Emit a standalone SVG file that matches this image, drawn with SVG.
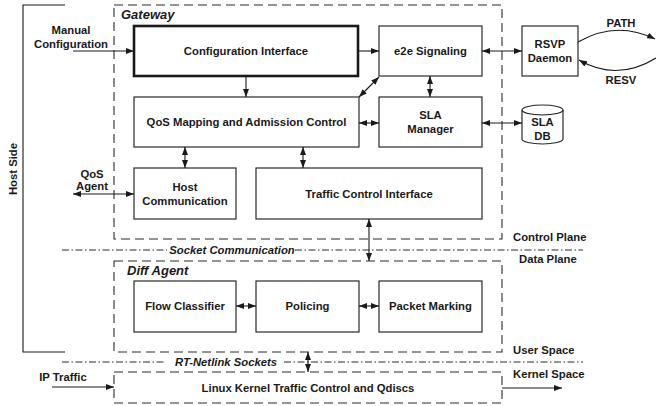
<svg xmlns="http://www.w3.org/2000/svg" width="656" height="406" viewBox="0 0 656 406">
  <defs>
    <marker id="ah" viewBox="0 0 8 6" refX="8" refY="3" markerWidth="8" markerHeight="6" markerUnits="userSpaceOnUse" orient="auto-start-reverse">
      <path d="M0,0 L8,3 L0,6 Z" fill="#1a1a1a"/>
    </marker>
    <style>
      text { font-family: "Liberation Sans", Arial, sans-serif; font-weight: bold; font-size: 11.3px; fill: #1a1a1a; }
      .c { text-anchor: middle; }
      .hdr { font-style: italic; font-size: 13px; }
      .it { font-style: italic; }
      .box { fill: #fff; stroke: #2a2a2a; stroke-width: 1.2; }
      .thick { fill: #fff; stroke: #1a1a1a; stroke-width: 2.6; }
      .dash { fill: none; stroke: #2a2a2a; stroke-width: 1.1; stroke-dasharray: 9 5; }
      .dd { fill: none; stroke: #2a2a2a; stroke-width: 1; stroke-dasharray: 7 2.5 1.5 2.5; }
      .ln { fill: none; stroke: #1a1a1a; stroke-width: 1.1; }
      .a1 { marker-end: url(#ah); }
      .a2 { marker-start: url(#ah); marker-end: url(#ah); }
    </style>
  </defs>

  <!-- host side bracket -->
  <g id="host-side">
    <path class="ln" d="M65,5 H23 V352 H65"/>
    <text class="c" transform="translate(17,169) rotate(-90)">Host Side</text>
  </g>

  <!-- plane / space separators -->
  <g id="separators">
    <path class="dd" d="M62,250 H167 M295,250 H583"/>
    <text class="c it" x="232" y="254">Socket Communication</text>
    <path class="dd" d="M62,362 H165 M284,362 H583"/>
    <text class="c it" x="226" y="366">RT-Netlink Sockets</text>
    <text x="513" y="241">Control Plane</text>
    <text x="519" y="263">Data Plane</text>
    <text x="513" y="354">User Space</text>
    <text x="513" y="378">Kernel Space</text>
  </g>

  <!-- gateway container -->
  <g id="gateway">
    <rect class="dash" x="114" y="5" width="388" height="234"/>
    <text class="hdr" x="121" y="19">Gateway</text>
  </g>

  <g id="config-interface">
    <rect class="thick" x="134" y="26" width="224" height="50"/>
    <text class="c" x="246" y="55">Configuration Interface</text>
  </g>

  <g id="e2e-signaling">
    <rect class="box" x="379" y="26" width="103" height="50"/>
    <text class="c" x="430.5" y="55">e2e Signaling</text>
  </g>

  <g id="rsvp-daemon">
    <rect class="box" x="522" y="26" width="56" height="50"/>
    <text class="c" x="550" y="48">RSVP</text>
    <text class="c" x="550" y="62">Daemon</text>
  </g>

  <g id="qos-mapping">
    <rect class="box" x="134" y="97" width="225" height="50"/>
    <text class="c" x="246.5" y="126">QoS Mapping and Admission Control</text>
  </g>

  <g id="sla-manager">
    <rect class="box" x="379" y="97" width="103" height="50"/>
    <text class="c" x="430.5" y="119">SLA</text>
    <text class="c" x="430.5" y="133">Manager</text>
  </g>

  <g id="sla-db">
    <path class="box" d="M522,110 V139 A20.5,5 0 0 0 563,139 V110 A20.5,5 0 0 0 522,110 Z"/>
    <path class="ln" d="M522,110 A20.5,5 0 0 0 563,110"/>
    <text class="c" x="542.5" y="126">SLA</text>
    <text class="c" x="542.5" y="140">DB</text>
  </g>

  <g id="host-communication">
    <rect class="box" x="134" y="168" width="102" height="51"/>
    <text class="c" x="185" y="191">Host</text>
    <text class="c" x="185" y="205">Communication</text>
  </g>

  <g id="traffic-control-interface">
    <rect class="box" x="256" y="168" width="226" height="51"/>
    <text class="c" x="369" y="198">Traffic Control Interface</text>
  </g>

  <!-- diff agent container -->
  <g id="diff-agent">
    <rect class="dash" x="114" y="261" width="388" height="91"/>
    <text class="hdr" x="127" y="275">Diff Agent</text>
  </g>

  <g id="flow-classifier">
    <rect class="box" x="134" y="281" width="102" height="51"/>
    <text class="c" x="185" y="310">Flow Classifier</text>
  </g>

  <g id="policing">
    <rect class="box" x="256" y="281" width="103" height="51"/>
    <text class="c" x="307.5" y="310">Policing</text>
  </g>

  <g id="packet-marking">
    <rect class="box" x="379" y="281" width="103" height="51"/>
    <text class="c" x="430.5" y="310">Packet Marking</text>
  </g>

  <g id="linux-kernel">
    <rect class="dash" x="114" y="372" width="388" height="31"/>
    <text class="c" x="308" y="392">Linux Kernel Traffic Control and Qdiscs</text>
  </g>

  <!-- external labels -->
  <g id="labels">
    <text class="c" x="71" y="34">Manual</text>
    <text class="c" x="71" y="48">Configuration</text>
    <text class="c" x="92" y="178">QoS</text>
    <text class="c" x="92" y="190">Agent</text>
    <text class="c" x="63" y="381">IP Traffic</text>
    <text class="c" x="621" y="27">PATH</text>
    <text class="c" x="621" y="84">RESV</text>
  </g>

  <!-- connectors -->
  <g id="connectors">
    <path class="ln a1" d="M73,51 H134"/>
    <path class="ln a1" d="M246,76 V97"/>
    <path class="ln a1" d="M358,51 H379"/>
    <path class="ln a2" d="M482,51 H522"/>
    <path class="ln a2" d="M379,77 L359,97"/>
    <path class="ln a2" d="M430,76 V97"/>
    <path class="ln a2" d="M359,123 H379"/>
    <path class="ln a2" d="M482,123 H522"/>
    <path class="ln a2" d="M185,147 V168"/>
    <path class="ln a2" d="M303,147 V168"/>
    <path class="ln a2" d="M73,194 H134"/>
    <path class="ln a2" d="M369,219 V261"/>
    <path class="ln a2" d="M236,306 H256"/>
    <path class="ln a2" d="M359,306 H379"/>
    <path class="ln a2" d="M308,352 V372"/>
    <path class="ln a1" d="M52,387 H114"/>
    <path class="ln a1" d="M502,388 H562"/>
    <path class="ln a1" d="M578,42 Q616,20 655,39"/>
    <path class="ln a1" d="M656,58 Q617,82 579,60"/>
  </g>
</svg>
